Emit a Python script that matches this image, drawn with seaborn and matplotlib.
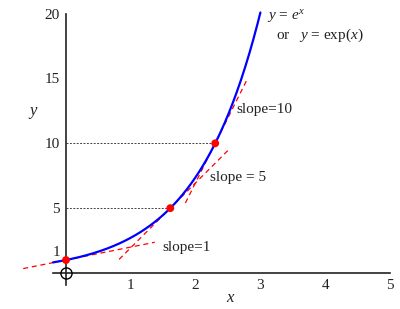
import numpy as np
import pandas as pd
import matplotlib
matplotlib.use("Agg")
import matplotlib.pyplot as plt
import seaborn as sns

# ---- data ----
slopes = [1, 5, 10]                       # tangent slopes (= e^x at the points)
slope_labels = ["slope=1", "slope = 5", "slope=10"]
tangent_left = [0.66, 0.79, 0.46]         # how far each tangent extends left of its point
tangent_right = [1.37, 0.89, 0.50]        # how far each tangent extends right of its point
curve_range = [-0.2, 3.0]
x_ticks = [1, 2, 3, 4, 5]
y_ticks = [5, 10, 15, 20]
guide_levels = [5, 10]

sns.set_style("white")
plt.rcParams["font.family"] = ["Liberation Serif", "DejaVu Serif"]
plt.rcParams["mathtext.fontset"] = "custom"
plt.rcParams["mathtext.rm"] = "Liberation Serif"
plt.rcParams["mathtext.it"] = "Liberation Serif:italic"

fig = plt.figure(figsize=(4.0, 3.09), dpi=100)
ax = fig.add_axes([0, 0, 1, 1])
px_x = 64.8
px_y = 12.97
ax.set_xlim(-66 / px_x, (400 - 66) / px_x)
ax.set_ylim((273 - 309) / px_y, 273 / px_y)

# curve
xc = np.linspace(curve_range[0], curve_range[1], 300)
curve = pd.DataFrame({"x": xc, "y": np.exp(xc)})
sns.lineplot(data=curve, x="x", y="y", ax=ax, color="#0000ff", lw=1.6, zorder=3)

# tangents
pts_x = np.log(slopes)
pts_y = np.array(slopes, dtype=float)
for s, x0, y0, l, r in zip(slopes, pts_x, pts_y, tangent_left, tangent_right):
    tx = np.array([x0 - l, x0 + r])
    tdf = pd.DataFrame({"x": tx, "y": y0 + s * (tx - x0)})
    sns.lineplot(data=tdf, x="x", y="y", ax=ax, color="#ff0000", lw=0.9,
                 linestyle=(0, (4, 3)), zorder=2)

# dotted guides
for lv in guide_levels:
    ax.plot([0, np.log(lv)], [lv, lv], color="#444444", lw=0.7,
            linestyle=(0, (2, 1.5)), zorder=1)

# points
pdf = pd.DataFrame({"x": pts_x, "y": pts_y})
sns.scatterplot(data=pdf, x="x", y="y", ax=ax, color="#ff0000", s=32,
                edgecolor="none", zorder=5)

# origin circle
ax.plot([0], [0], marker="o", ms=8, mfc="none", mec="black", mew=1.0, zorder=6)

# axes
for sp in ["top", "right"]:
    ax.spines[sp].set_visible(False)
ax.spines["left"].set_position(("data", 0))
ax.spines["bottom"].set_position(("data", 0))
ax.spines["left"].set_bounds(-0.93, 20)
ax.spines["bottom"].set_bounds(-0.2, 5)
for sp in ["left", "bottom"]:
    ax.spines[sp].set_color("#222222")
    ax.spines[sp].set_linewidth(1.2)

ax.set_xticks(x_ticks)
ax.set_xticklabels([str(t) for t in x_ticks])
ax.set_yticks(y_ticks)
ax.set_yticklabels([str(t) for t in y_ticks])
ax.tick_params(axis="both", direction="in", length=5, width=1.0, color="#222222",
               labelsize=11, labelcolor="#222222")
ax.tick_params(axis="x", pad=4)
ax.tick_params(axis="y", pad=4.5)
ax.set_xlabel("")
ax.set_ylabel("")

ax.text(-0.09, 1.55, "1", ha="right", va="center", fontsize=11, color="#222222")

ax.text((231 - 66) / px_x, (273 - 298) / px_y, "$x$", ha="center", va="center",
        fontsize=12, color="#222222")
ax.text((33 - 66) / px_x, (273 - 113) / px_y, "$y$", ha="center", va="center",
        fontsize=12, color="#222222")

# annotations
ax.text((267 - 66) / px_x, (273 - 20) / px_y, "$y$ = $e^x$", ha="left",
        va="baseline", fontsize=11, color="#222222")
ax.text((276 - 66) / px_x, (273 - 39) / px_y, "or   $y$ = exp$(x)$", ha="left",
        va="baseline", fontsize=11, color="#222222")
label_pos = [(162, 248), (210, 177), (236, 110)]
for lab, (lx, ly) in zip(slope_labels, label_pos):
    ax.text((lx - 66) / px_x, (273 - ly) / px_y, lab, ha="left", va="center",
            fontsize=11, color="#222222")

fig.savefig("out.png", dpi=100)
